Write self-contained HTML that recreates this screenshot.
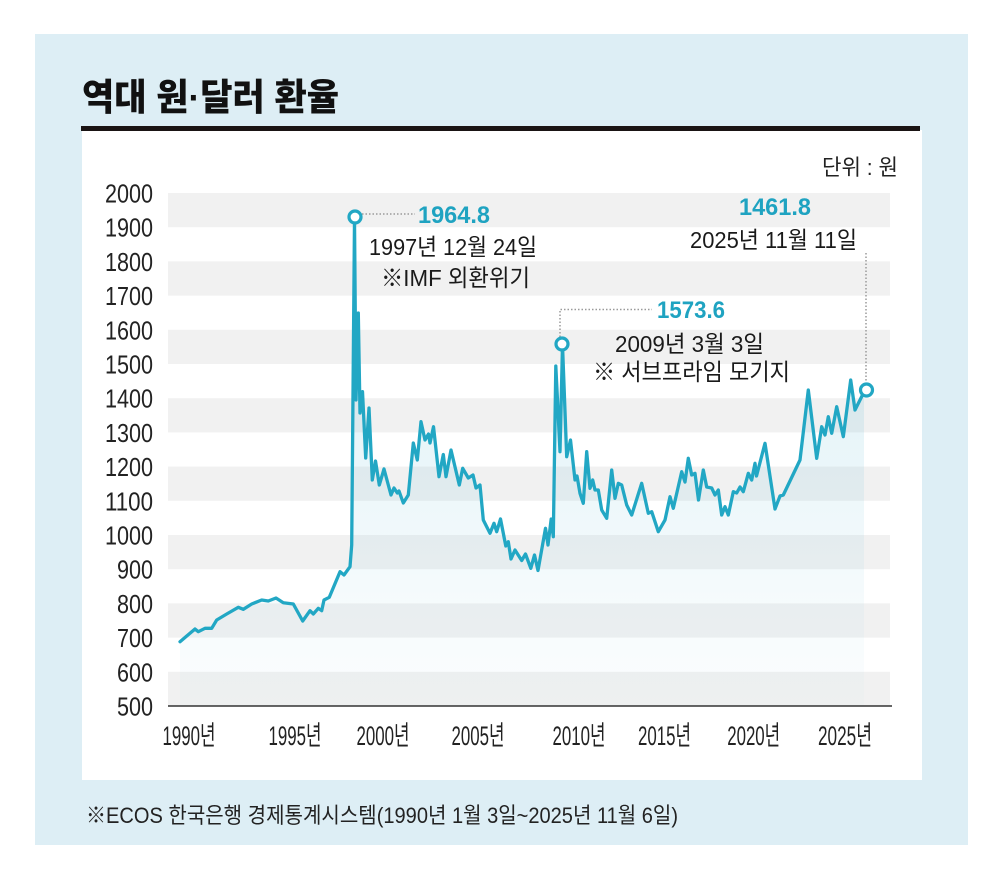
<!DOCTYPE html>
<html>
<head>
<meta charset="utf-8">
<style>
html,body{margin:0;padding:0;background:#fff;}
body{width:1005px;height:889px;overflow:hidden;}
svg{display:block;}
text{font-family:"Liberation Sans","Noto Sans CJK KR",sans-serif;}
</style>
</head>
<body>
<svg width="1005" height="889" viewBox="0 0 1005 889" xmlns="http://www.w3.org/2000/svg">
<defs>
<linearGradient id="fillg" x1="0" y1="220" x2="0" y2="706" gradientUnits="userSpaceOnUse">
<stop offset="0" stop-color="#4fb3cf" stop-opacity="0.24"/>
<stop offset="0.5" stop-color="#6cc0d8" stop-opacity="0.14"/>
<stop offset="1" stop-color="#9fd4e4" stop-opacity="0.04"/>
</linearGradient>
</defs>
<rect x="0" y="0" width="1005" height="889" fill="#ffffff"/>
<rect x="35" y="34" width="933" height="811" fill="#ddeef5"/>
<rect x="82" y="130" width="840" height="650" fill="#ffffff"/>
<rect x="81" y="126" width="839" height="5" fill="#1a1414"/>
<text x="82" y="110" font-size="37" font-weight="900" fill="#111" textLength="257" lengthAdjust="spacingAndGlyphs">역대 원·달러 환율</text>
<text x="822" y="175" font-size="22" fill="#222" textLength="76" lengthAdjust="spacingAndGlyphs">단위 : 원</text>

<!-- bands -->
<g fill="#f1f1f1">
<rect x="168" y="193" width="722" height="34.2"/>
<rect x="168" y="261.4" width="722" height="34.2"/>
<rect x="168" y="329.8" width="722" height="34.2"/>
<rect x="168" y="398.2" width="722" height="34.2"/>
<rect x="168" y="466.6" width="722" height="34.2"/>
<rect x="168" y="535" width="722" height="34.2"/>
<rect x="168" y="603.4" width="722" height="34.2"/>
<rect x="168" y="671.8" width="722" height="34.2"/>
</g>

<!-- y labels -->
<g font-size="25.5" fill="#222" text-anchor="end">
<text x="153" y="202.5" textLength="48" lengthAdjust="spacingAndGlyphs">2000</text>
<text x="153" y="236.7" textLength="48" lengthAdjust="spacingAndGlyphs">1900</text>
<text x="153" y="270.9" textLength="48" lengthAdjust="spacingAndGlyphs">1800</text>
<text x="153" y="305.1" textLength="48" lengthAdjust="spacingAndGlyphs">1700</text>
<text x="153" y="339.3" textLength="48" lengthAdjust="spacingAndGlyphs">1600</text>
<text x="153" y="373.5" textLength="48" lengthAdjust="spacingAndGlyphs">1500</text>
<text x="153" y="407.7" textLength="48" lengthAdjust="spacingAndGlyphs">1400</text>
<text x="153" y="441.9" textLength="48" lengthAdjust="spacingAndGlyphs">1300</text>
<text x="153" y="476.1" textLength="48" lengthAdjust="spacingAndGlyphs">1200</text>
<text x="153" y="510.3" textLength="48" lengthAdjust="spacingAndGlyphs">1100</text>
<text x="153" y="544.5" textLength="48" lengthAdjust="spacingAndGlyphs">1000</text>
<text x="153" y="578.7" textLength="36" lengthAdjust="spacingAndGlyphs">900</text>
<text x="153" y="612.9" textLength="36" lengthAdjust="spacingAndGlyphs">800</text>
<text x="153" y="647.1" textLength="36" lengthAdjust="spacingAndGlyphs">700</text>
<text x="153" y="681.3" textLength="36" lengthAdjust="spacingAndGlyphs">600</text>
<text x="153" y="715.5" textLength="36" lengthAdjust="spacingAndGlyphs">500</text>
</g>

<!-- fill -->
<path fill="url(#fillg)" d="M180,641.7 L195,629 L198.3,631.7 L205,628.3 L211.7,628.3 L216.7,620 L226.7,614 L238.3,607.3 L243.3,609.3 L251.7,604 L261.7,600 L268.3,601 L276,598 L283.3,602.7 L293.3,604 L302.7,621 L310,610.7 L313.3,614 L318.3,608.3 L321.7,610.7 L324,600 L329.3,597.3 L340,571.7 L344,575 L350,566.7 L351.7,545 L354.5,220 L356,400 L358.3,313 L360,413 L362.5,391.7 L365.7,458 L369,408 L372.3,480 L375.5,461 L379.3,485 L384,469 L391,495 L394,488 L397.3,493 L399,491 L403.3,503 L408.3,495 L413.3,443 L417.3,460 L421,421.7 L425,440 L428.5,434 L430,443 L433.5,426.7 L439,476.7 L443.3,454.5 L446,476.7 L451,450 L459.3,485 L462.7,468.3 L468.3,478 L473,475 L476,488 L480,485 L483.3,520 L490,533.3 L494,523.3 L496.7,531.7 L500.5,519 L505.8,546 L508.3,541.7 L511,559 L515,550 L521.7,560.5 L525.5,554 L530.8,568.3 L534.5,555 L538,570.5 L545.5,528.3 L548,545 L551.2,519 L553.3,536.7 L555.8,366 L560,451.7 L562.5,345 L566.7,456.7 L570.5,440 L575,480 L577,476 L580,493.3 L583.3,503.3 L586.7,451.7 L590,488.3 L592.7,480 L595,490 L598.3,490 L601.7,510 L606.7,518.3 L611.7,470 L615,498.3 L618.3,483.3 L621.7,485 L626.7,505 L631.7,515 L641.7,483.3 L648.3,513.3 L651.7,511.7 L658.3,531.7 L665,520 L670,496.7 L673.3,508.3 L681.7,471.7 L685,482 L688.3,458.3 L691.7,475 L695,473.3 L698.5,500 L703.3,470 L706.7,487 L711.7,488 L715,495 L718.3,490 L721.7,515 L725,506.7 L728.3,515 L733.3,491.7 L736.7,493 L740,487 L743.3,491.7 L748.3,473.3 L751.7,480 L755,463.3 L756.5,476 L765,443.3 L775,509 L780,496 L783.3,495 L800,460 L808.3,390 L816.7,458.3 L821.7,426.7 L825,435 L828.3,416.7 L831.7,433.3 L836.7,406.7 L843.3,436.7 L850.7,380 L855,410 L860,400 L864,392 L864,706 L180,706 Z"/>

<!-- axis -->
<line x1="168" y1="706" x2="892" y2="706" stroke="#333" stroke-width="1.5"/>

<!-- x labels -->
<g font-size="27" fill="#222" text-anchor="middle">
<text x="189" y="745" textLength="53" lengthAdjust="spacingAndGlyphs">1990년</text>
<text x="295" y="745" textLength="53" lengthAdjust="spacingAndGlyphs">1995년</text>
<text x="383" y="745" textLength="53" lengthAdjust="spacingAndGlyphs">2000년</text>
<text x="478" y="745" textLength="53" lengthAdjust="spacingAndGlyphs">2005년</text>
<text x="579" y="745" textLength="53" lengthAdjust="spacingAndGlyphs">2010년</text>
<text x="664.5" y="745" textLength="53" lengthAdjust="spacingAndGlyphs">2015년</text>
<text x="753.7" y="745" textLength="53" lengthAdjust="spacingAndGlyphs">2020년</text>
<text x="845" y="745" textLength="54" lengthAdjust="spacingAndGlyphs">2025년</text>
</g>

<!-- dotted leaders -->
<g stroke="#9a9a9a" stroke-width="1.5" stroke-dasharray="1.5 2" fill="none">
<line x1="362" y1="214" x2="415" y2="214"/>
<polyline points="560,337 560,309.5 652,309.5"/>
<line x1="866" y1="253" x2="866" y2="383"/>
</g>

<!-- line -->
<polyline fill="none" stroke="#22a7c4" stroke-width="3.3" stroke-linejoin="round" stroke-linecap="round" points="180,641.7 195,629 198.3,631.7 205,628.3 211.7,628.3 216.7,620 226.7,614 238.3,607.3 243.3,609.3 251.7,604 261.7,600 268.3,601 276,598 283.3,602.7 293.3,604 302.7,621 310,610.7 313.3,614 318.3,608.3 321.7,610.7 324,600 329.3,597.3 340,571.7 344,575 350,566.7 351.7,545 354.5,220 356,400 358.3,313 360,413 362.5,391.7 365.7,458 369,408 372.3,480 375.5,461 379.3,485 384,469 391,495 394,488 397.3,493 399,491 403.3,503 408.3,495 413.3,443 417.3,460 421,421.7 425,440 428.5,434 430,443 433.5,426.7 439,476.7 443.3,454.5 446,476.7 451,450 459.3,485 462.7,468.3 468.3,478 473,475 476,488 480,485 483.3,520 490,533.3 494,523.3 496.7,531.7 500.5,519 505.8,546 508.3,541.7 511,559 515,550 521.7,560.5 525.5,554 530.8,568.3 534.5,555 538,570.5 545.5,528.3 548,545 551.2,519 553.3,536.7 555.8,366 560,451.7 562.5,345 566.7,456.7 570.5,440 575,480 577,476 580,493.3 583.3,503.3 586.7,451.7 590,488.3 592.7,480 595,490 598.3,490 601.7,510 606.7,518.3 611.7,470 615,498.3 618.3,483.3 621.7,485 626.7,505 631.7,515 641.7,483.3 648.3,513.3 651.7,511.7 658.3,531.7 665,520 670,496.7 673.3,508.3 681.7,471.7 685,482 688.3,458.3 691.7,475 695,473.3 698.5,500 703.3,470 706.7,487 711.7,488 715,495 718.3,490 721.7,515 725,506.7 728.3,515 733.3,491.7 736.7,493 740,487 743.3,491.7 748.3,473.3 751.7,480 755,463.3 756.5,476 765,443.3 775,509 780,496 783.3,495 800,460 808.3,390 816.7,458.3 821.7,426.7 825,435 828.3,416.7 831.7,433.3 836.7,406.7 843.3,436.7 850.7,380 855,410 860,400 864,392"/>

<!-- markers -->
<g fill="#ffffff" stroke="#22a7c4" stroke-width="3.2">
<circle cx="355" cy="217" r="6"/>
<circle cx="562" cy="344" r="6"/>
<circle cx="866.5" cy="390" r="6"/>
</g>

<!-- annotations -->
<g font-weight="700" fill="#1fa3c1" font-size="24.5">
<text x="418" y="223" textLength="72" lengthAdjust="spacingAndGlyphs">1964.8</text>
<text x="657" y="318" textLength="68" lengthAdjust="spacingAndGlyphs">1573.6</text>
<text x="739" y="215" textLength="72" lengthAdjust="spacingAndGlyphs">1461.8</text>
</g>
<g fill="#1a1a1a" font-size="23.5">
<text x="369" y="255" textLength="168" lengthAdjust="spacingAndGlyphs">1997년 12월 24일</text>
<text x="381" y="286" textLength="149" lengthAdjust="spacingAndGlyphs">※IMF 외환위기</text>
<text x="615" y="352" textLength="149" lengthAdjust="spacingAndGlyphs">2009년 3월 3일</text>
<text x="593" y="380" textLength="197" lengthAdjust="spacingAndGlyphs">※ 서브프라임 모기지</text>
<text x="690" y="248" textLength="167" lengthAdjust="spacingAndGlyphs">2025년 11월 11일</text>
</g>

<text x="86" y="823" font-size="22" fill="#222" textLength="592" lengthAdjust="spacingAndGlyphs">※ECOS 한국은행 경제통계시스템(1990년 1월 3일~2025년 11월 6일)</text>
</svg>
</body>
</html>
